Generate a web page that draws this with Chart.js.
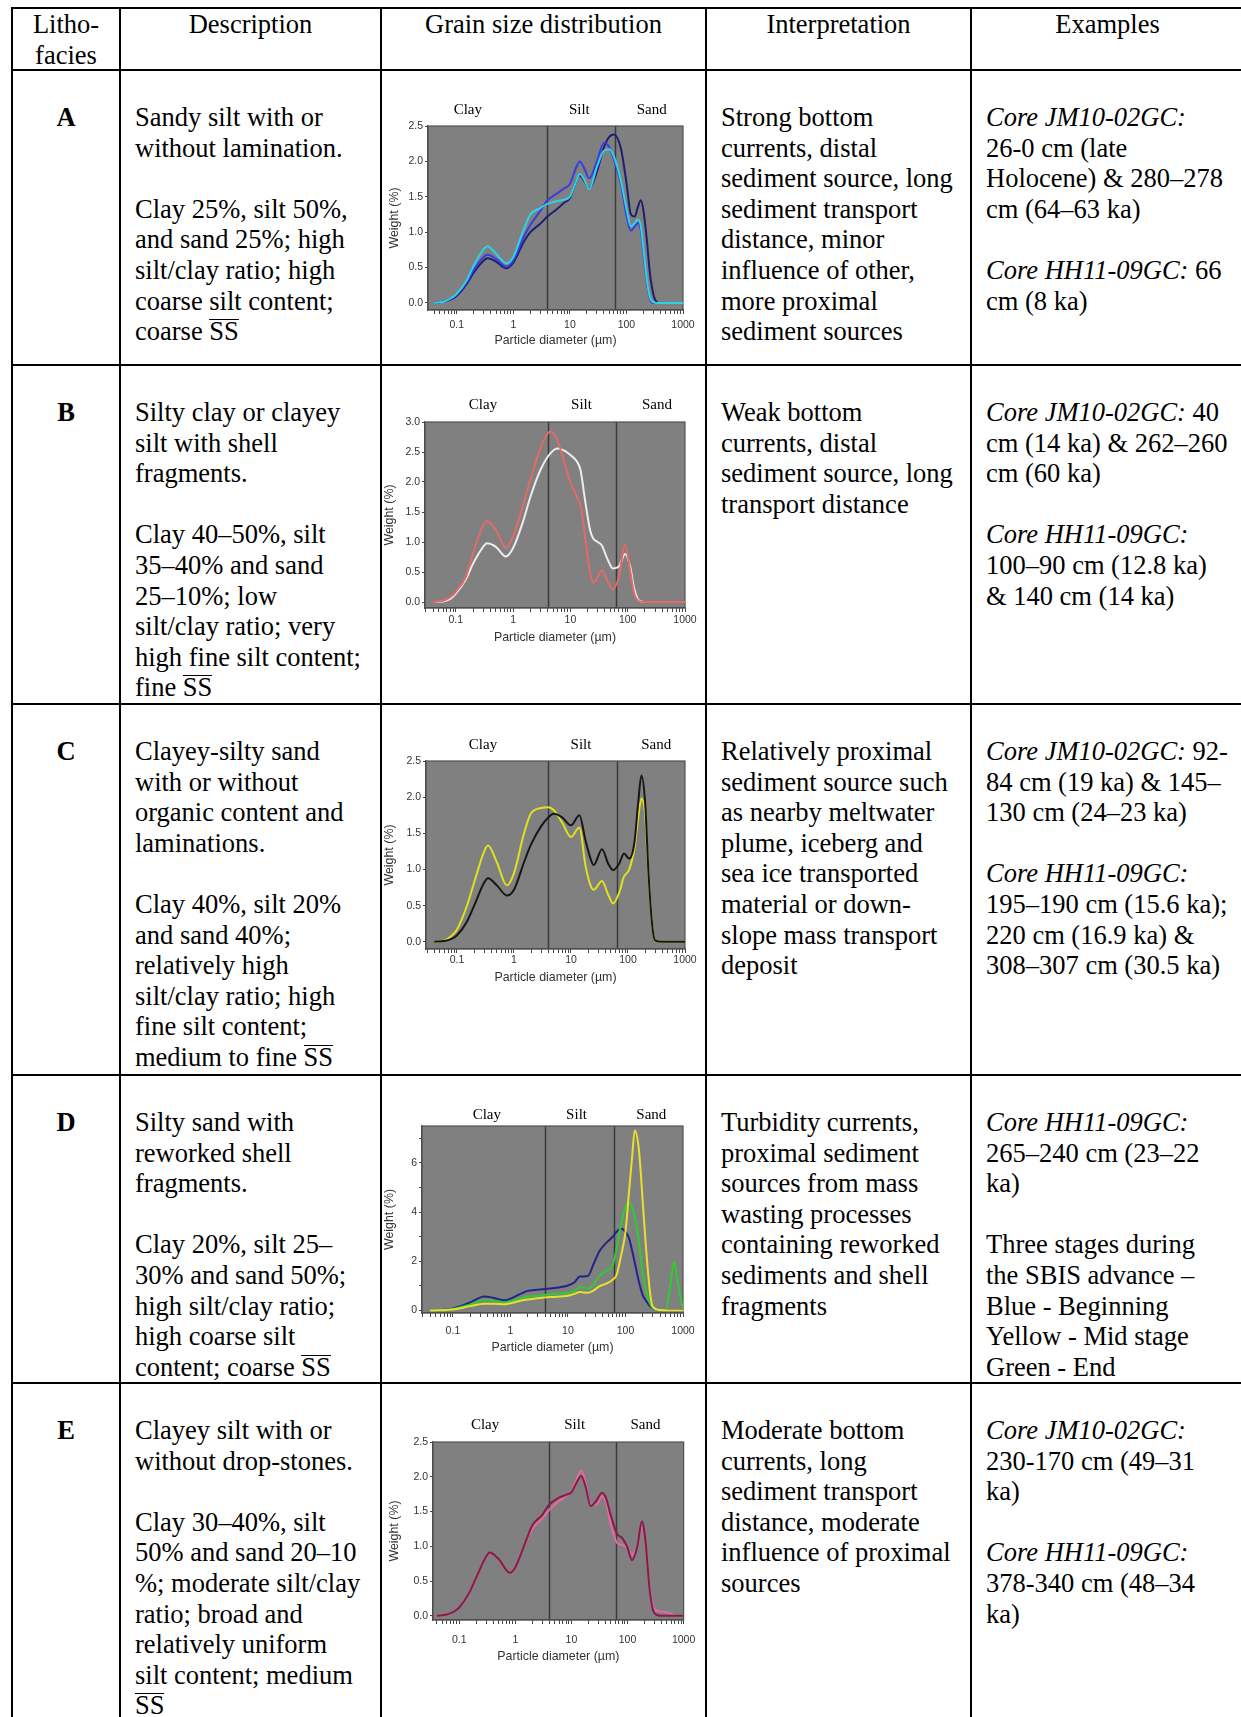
<!DOCTYPE html>
<html>
<head>
<meta charset="utf-8">
<title>Lithofacies grain size distributions</title>
<script src="https://cdn.jsdelivr.net/npm/chart.js@4.4.1/dist/chart.umd.min.js"></script>
<style>
  body { margin: 0; background: #fff; }
  #page { position: relative; width: 1241px; height: 1717px; overflow: hidden;
          font-family: "Liberation Serif", "Times New Roman", serif; font-size: 26.5px;
          line-height: 30.6px; color: #000; }
  .hl { position: absolute; left: 11px; right: 0; height: 2px; background: #000; }
  .vl { position: absolute; top: 7px; bottom: 0; width: 2px; background: #000; }
  .cell { position: absolute; white-space: nowrap; }
  .ov { display: inline-block; line-height: 22px; border-top: 1.5px solid #000; }
  canvas.plot { position: absolute; left: 383px; }
</style>
</head>
<body>
<div id="page"></div>
<script>
// ---- Chart data (particle diameter in µm, weight in %) ----
const xTickLabels = ['0.1', '1', '10', '100', '1000'];
const zoneBounds = [4, 63];            // clay/silt and silt/sand limits
const zoneNames = ['Clay', 'Silt', 'Sand'];

const yTicksA = [0, 0.5, 1.0, 1.5, 2.0, 2.5];
const yTicksB = [0, 0.5, 1.0, 1.5, 2.0, 2.5, 3.0];
const yTicksD = [0, 1, 2, 3, 4, 5, 6, 7];

// Facies A
const sizesA = [0.04, 0.06, 0.08, 0.1, 0.15, 0.2, 0.3, 0.35, 0.5, 0.75, 1, 1.5, 2, 3, 4, 6, 8, 10, 13, 15,
  18, 22, 30, 40, 50, 60, 80, 100, 120, 140, 160, 180, 200, 230, 260, 300, 350, 400, 1000];
const aCyan = [0, 0.02, 0.07, 0.13, 0.32, 0.53, 0.76, 0.80, 0.69, 0.56, 0.65, 1.02, 1.25, 1.34, 1.40, 1.44, 1.46, 1.50, 1.72, 1.82,
  1.74, 1.61, 1.92, 2.15, 2.17, 2.07, 1.72, 1.33, 1.08, 1.13, 1.18, 1.08, 0.76, 0.33, 0.08, 0.01, 0, 0, 0];
const aBlue = [0, 0.02, 0.06, 0.12, 0.29, 0.47, 0.65, 0.68, 0.62, 0.51, 0.60, 0.92, 1.10, 1.30, 1.45, 1.55, 1.62, 1.68, 1.92, 2.00,
  1.90, 1.76, 2.00, 2.26, 2.20, 2.03, 1.68, 1.24, 1.02, 1.08, 1.13, 1.02, 0.70, 0.30, 0.06, 0, 0, 0, 0];
const aNavy = [0, 0.02, 0.05, 0.10, 0.27, 0.43, 0.60, 0.63, 0.58, 0.49, 0.57, 0.85, 1.00, 1.12, 1.22, 1.33, 1.42, 1.48, 1.72, 1.80,
  1.72, 1.62, 1.85, 2.20, 2.35, 2.38, 2.18, 1.70, 1.25, 1.22, 1.36, 1.45, 1.30, 0.88, 0.42, 0.12, 0.01, 0, 0];

// Facies B
const sizesB = [0.04, 0.06, 0.08, 0.1, 0.15, 0.2, 0.3, 0.35, 0.5, 0.75, 1, 1.5, 2, 3, 4.5, 6, 8, 10, 13, 15,
  18, 22, 25, 30, 35, 45, 55, 70, 90, 110, 130, 160, 200, 1000];
const bRed = [0, 0.02, 0.08, 0.17, 0.42, 0.81, 1.28, 1.35, 1.20, 0.90, 1.09, 1.62, 2.03, 2.56, 2.84, 2.68, 2.30, 2.00, 1.75, 1.62,
  1.10, 0.50, 0.32, 0.42, 0.53, 0.34, 0.21, 0.42, 0.96, 0.53, 0.14, 0.01, 0, 0];
const bWhite = [0, 0.01, 0.05, 0.14, 0.38, 0.64, 0.92, 0.98, 0.92, 0.76, 0.90, 1.35, 1.75, 2.20, 2.48, 2.56, 2.52, 2.45, 2.34, 2.20,
  1.70, 1.20, 1.06, 1.00, 0.95, 0.70, 0.56, 0.59, 0.80, 0.60, 0.22, 0.02, 0, 0];

// Facies C
const sizesC = [0.04, 0.06, 0.08, 0.1, 0.15, 0.2, 0.3, 0.35, 0.5, 0.75, 1, 1.5, 2, 3, 4, 5, 7, 10, 14, 18,
  22, 25, 35, 45, 55, 70, 85, 105, 130, 150, 172, 200, 230, 270, 300, 400, 1000];
const cBlack = [0, 0.01, 0.04, 0.09, 0.28, 0.50, 0.82, 0.88, 0.78, 0.64, 0.72, 1.10, 1.35, 1.60, 1.72, 1.77, 1.72, 1.61, 1.75, 1.40,
  1.15, 1.06, 1.28, 1.08, 0.99, 1.08, 1.22, 1.15, 1.38, 1.90, 2.30, 1.92, 0.92, 0.18, 0.02, 0, 0];
const cYellow = [0, 0.02, 0.08, 0.17, 0.50, 0.82, 1.25, 1.33, 1.10, 0.78, 0.95, 1.50, 1.78, 1.85, 1.86, 1.82, 1.65, 1.45, 1.58, 1.05,
  0.78, 0.72, 0.84, 0.65, 0.53, 0.68, 0.90, 1.00, 1.30, 1.70, 1.98, 1.75, 0.90, 0.18, 0.02, 0, 0];

// Facies D
const sizesD = [0.04, 0.06, 0.1, 0.2, 0.35, 0.5, 0.8, 1, 1.5, 2, 3, 5, 10, 13, 16, 22, 28, 35, 45, 60,
  70, 85, 100, 115, 130, 145, 170, 200, 230, 270, 300, 400, 500, 600, 700, 800, 900, 1000];
const dNavy = [0, 0.01, 0.08, 0.33, 0.57, 0.52, 0.42, 0.48, 0.68, 0.80, 0.85, 0.90, 1.02, 1.15, 1.38, 1.40, 1.90, 2.40, 2.72, 3.00,
  3.20, 3.32, 3.20, 2.95, 2.45, 1.95, 1.20, 0.62, 0.38, 0.16, 0.09, 0.02, 0, 0, 0, 0, 0, 0];
const dGreen = [0, 0.01, 0.06, 0.25, 0.43, 0.40, 0.33, 0.38, 0.50, 0.56, 0.60, 0.66, 0.72, 0.80, 0.95, 0.90, 1.05, 1.40, 1.60, 1.85,
  2.50, 3.60, 4.20, 4.38, 4.20, 3.80, 2.86, 1.45, 0.75, 0.25, 0.10, 0.02, 0.02, 1.00, 1.98, 1.25, 0.55, 0.10];
const dYellow = [0, 0.01, 0.04, 0.18, 0.28, 0.28, 0.26, 0.30, 0.40, 0.45, 0.50, 0.55, 0.60, 0.68, 0.75, 0.72, 0.82, 0.98, 1.08, 1.25,
  1.45, 2.30, 3.20, 4.80, 6.20, 7.32, 6.60, 4.40, 2.40, 0.65, 0.15, 0.02, 0, 0, 0, 0, 0, 0];

// Facies E
const sizesE = [0.04, 0.06, 0.08, 0.1, 0.15, 0.2, 0.3, 0.35, 0.5, 0.8, 1, 1.5, 2, 3, 4, 6, 8, 10, 13, 15,
  18, 22, 28, 35, 42, 50, 65, 80, 100, 120, 150, 180, 210, 250, 300, 400, 500, 600, 700, 1000];
const eDark = [0, 0.02, 0.06, 0.12, 0.33, 0.55, 0.85, 0.91, 0.82, 0.62, 0.70, 1.05, 1.30, 1.45, 1.60, 1.70, 1.74, 1.78, 1.95, 2.01,
  1.85, 1.58, 1.66, 1.77, 1.68, 1.45, 1.18, 1.12, 0.98, 0.80, 1.00, 1.36, 1.05, 0.35, 0.04, 0, 0, 0, 0, 0];
const ePink = [0, 0.02, 0.06, 0.12, 0.33, 0.55, 0.85, 0.91, 0.82, 0.62, 0.70, 1.04, 1.25, 1.40, 1.52, 1.65, 1.72, 1.80, 2.00, 2.09,
  1.90, 1.60, 1.60, 1.72, 1.62, 1.32, 1.05, 1.02, 0.98, 0.88, 1.00, 1.28, 1.00, 0.40, 0.10, 0.06, 0.05, 0.03, 0, 0];

// ---- Table text ----
const headers = [['Litho-', 'facies'], ['Description'], ['Grain size distribution'], ['Interpretation'], ['Examples']];
const faciesLetters = ['A', 'B', 'C', 'D', 'E'];
const SS = '<span class="ov">SS</span>';
const descriptions = [
  ['Sandy silt with or', 'without lamination.', '', 'Clay 25%, silt 50%,', 'and sand 25%; high',
   'silt/clay ratio; high', 'coarse silt content;', 'coarse ' + SS],
  ['Silty clay or clayey', 'silt with shell', 'fragments.', '', 'Clay 40–50%, silt', '35–40% and sand',
   '25–10%; low', 'silt/clay ratio; very', 'high fine silt content;', 'fine ' + SS],
  ['Clayey-silty sand', 'with or without', 'organic content and', 'laminations.', '', 'Clay 40%, silt 20%',
   'and sand 40%;', 'relatively high', 'silt/clay ratio; high', 'fine silt content;', 'medium to fine ' + SS],
  ['Silty sand with', 'reworked shell', 'fragments.', '', 'Clay 20%, silt 25–', '30% and sand 50%;',
   'high silt/clay ratio;', 'high coarse silt', 'content; coarse ' + SS],
  ['Clayey silt with or', 'without drop-stones.', '', 'Clay 30–40%, silt', '50% and sand 20–10',
   '%; moderate silt/clay', 'ratio; broad and', 'relatively uniform', 'silt content; medium', SS]
];
const interpretations = [
  ['Strong bottom', 'currents, distal', 'sediment source, long', 'sediment transport', 'distance, minor',
   'influence of other,', 'more proximal', 'sediment sources'],
  ['Weak bottom', 'currents, distal', 'sediment source, long', 'transport distance'],
  ['Relatively proximal', 'sediment source such', 'as nearby meltwater', 'plume, iceberg and',
   'sea ice transported', 'material or down-', 'slope mass transport', 'deposit'],
  ['Turbidity currents,', 'proximal sediment', 'sources from mass', 'wasting processes',
   'containing reworked', 'sediments and shell', 'fragments'],
  ['Moderate bottom', 'currents, long', 'sediment transport', 'distance, moderate',
   'influence of proximal', 'sources']
];
const examples = [
  ['<i>Core JM10-02GC:</i>', '26-0 cm (late', 'Holocene) &amp; 280–278', 'cm (64–63 ka)', '',
   '<i>Core HH11-09GC:</i> 66', 'cm (8 ka)'],
  ['<i>Core JM10-02GC:</i> 40', 'cm (14 ka) &amp; 262–260', 'cm (60 ka)', '', '<i>Core HH11-09GC:</i>',
   '100–90 cm (12.8 ka)', '&amp; 140 cm (14 ka)'],
  ['<i>Core JM10-02GC:</i> 92-', '84 cm (19 ka) &amp; 145–', '130 cm (24–23 ka)', '', '<i>Core HH11-09GC:</i>',
   '195–190 cm (15.6 ka);', '220 cm (16.9 ka) &amp;', '308–307 cm (30.5 ka)'],
  ['<i>Core HH11-09GC:</i>', '265–240 cm (23–22', 'ka)', '', 'Three stages during', 'the SBIS advance –',
   'Blue - Beginning', 'Yellow - Mid stage', 'Green - End'],
  ['<i>Core JM10-02GC:</i>', '230-170 cm (49–31', 'ka)', '', '<i>Core HH11-09GC:</i>', '378-340 cm (48–34', 'ka)']
];

// ---- Layout ----
const colX = [12, 120, 381, 706, 971];
const rowY = [8, 70, 365, 704, 1075, 1383];

const page = document.getElementById('page');

function addDiv(cls, style, html) {
  const d = document.createElement('div');
  d.className = cls;
  Object.assign(d.style, style);
  if (html !== undefined) d.innerHTML = html;
  page.appendChild(d);
  return d;
}

function buildTable() {
  rowY.forEach(y => addDiv('hl', { top: (y - 1) + 'px' }));
  colX.forEach(x => addDiv('vl', { left: (x - 1) + 'px' }));

  // header row
  headers.forEach((lines, i) => {
    const left = colX[i] + 1;
    const right = i + 1 < colX.length ? colX[i + 1] - 1 : 1243;
    addDiv('cell', { left: left + 'px', width: (right - left) + 'px', top: '9px', textAlign: 'center' }, lines.join('<br>'));
  });

  // body rows
  faciesLetters.forEach((letter, r) => {
    const top = rowY[r + 1] + 32;
    addDiv('cell', { left: '13px', width: '106px', top: top + 'px', textAlign: 'center', fontWeight: 'bold' }, letter);
    addDiv('cell', { left: '135px', top: top + 'px' }, descriptions[r].join('<br>'));
    addDiv('cell', { left: '721px', top: top + 'px' }, interpretations[r].join('<br>'));
    addDiv('cell', { left: '986px', top: top + 'px' }, examples[r].join('<br>'));
  });
}

// ---- Charts ----
const plotSpecs = [
  { top: 72, height: 291, area: { l: 428, r: 683, t: 126, b: 310 }, xMin: 0.031, yMin: -0.1, yMax: 2.5, yTicks: yTicksA,
    zoneX: [0.157, 14.7, 279], zoneGap: 16, tickGap: 15, titleGap: 31, yTitleX: 395,
    sizes: sizesA, series: [[aCyan, '#2ad4e6'], [aBlue, '#3b3be0'], [aNavy, '#1f1f70']] },
  { top: 367, height: 335, area: { l: 425, r: 685, t: 422, b: 608 }, xMin: 0.029, yMin: -0.1, yMax: 3.0, yTicks: yTicksB,
    zoneX: [0.298, 15.6, 323], zoneGap: 17, tickGap: 12, titleGap: 30, yTitleX: 390,
    sizes: sizesB, series: [[bRed, '#e46a6a'], [bWhite, '#ececec']] },
  { top: 706, height: 367, area: { l: 426, r: 685, t: 761, b: 949 }, xMin: 0.0286, yMin: -0.1, yMax: 2.5, yTicks: yTicksA,
    zoneX: [0.286, 15, 313], zoneGap: 16, tickGap: 11, titleGap: 29, yTitleX: 390,
    sizes: sizesC, series: [[cBlack, '#161616'], [cYellow, '#e0e020']] },
  { top: 1077, height: 304, area: { l: 422, r: 683, t: 1126, b: 1313 }, xMin: 0.029, yMin: -0.1, yMax: 7.5, yTicks: yTicksD,
    zoneX: [0.388, 14.1, 281], zoneGap: 11, tickGap: 18, titleGap: 35, yTitleX: 390, intLabels: true,
    sizes: sizesD, series: [[dYellow, '#e8e02a'], [dGreen, '#2ecc2e'], [dNavy, '#23238c']] },
  { top: 1385, height: 332, area: { l: 433, r: 686, t: 1442, b: 1620 }, xMin: 0.034, yMin: -0.06, yMax: 2.5, yTicks: yTicksA,
    zoneX: [0.288, 11.4, 209], zoneGap: 17, tickGap: 20, titleGap: 37, yTitleX: 395,
    sizes: sizesE, series: [[eDark, '#8a1848'], [ePink, '#e66aa0']] }
];

// tick positions along the log axis: 1..9 x each decade
function logTickValues(min, max) {
  const out = [];
  for (let e = -2; e <= 3; e++) {
    for (let m = 1; m <= 9; m++) {
      const v = m * Math.pow(10, e);
      if (v >= min * 0.999 && v <= max * 1.001) out.push(v);
    }
  }
  return out;
}

function xLabel(v) {
  const lbl = xTickLabels.find(l => Math.abs(Math.log10(Number(l)) - Math.log10(v)) < 1e-6);
  return lbl || '';
}

const panelPlugin = {
  id: 'panel',
  beforeDraw(chart) {
    const { ctx, chartArea: a } = chart;
    ctx.save();
    ctx.fillStyle = '#808080';
    ctx.fillRect(a.left, a.top, a.right - a.left, a.bottom - a.top);
    ctx.restore();
  },
  beforeDatasetsDraw(chart) {
    const { ctx, chartArea: a, scales: { x } } = chart;
    ctx.save();
    ctx.strokeStyle = '#3a3a3a';
    ctx.lineWidth = 1.5;
    zoneBounds.forEach(v => {
      const px = Math.round(x.getPixelForValue(v)) + 0.5;
      ctx.beginPath();
      ctx.moveTo(px, a.top);
      ctx.lineTo(px, a.bottom);
      ctx.stroke();
    });
    ctx.strokeStyle = '#505050';
    ctx.lineWidth = 1.2;
    ctx.strokeRect(a.left, a.top, a.right - a.left, a.bottom - a.top);
    ctx.restore();
  },
  afterDraw(chart, args, opts) {
    const { ctx, chartArea: a, scales: { x } } = chart;
    ctx.save();
    ctx.fillStyle = '#000';
    ctx.font = '15px "Liberation Serif", "Times New Roman", serif';
    ctx.textAlign = 'center';
    ctx.textBaseline = 'middle';
    zoneNames.forEach((name, i) => {
      ctx.fillText(name, x.getPixelForValue(opts.zoneX[i]), a.top - opts.zoneGap);
    });
    ctx.restore();
  }
};

function renderPlot(spec) {
  const canvas = document.createElement('canvas');
  canvas.className = 'plot';
  const cw = 322;
  canvas.width = cw;
  canvas.height = spec.height;
  canvas.style.top = spec.top + 'px';
  page.appendChild(canvas);

  const cl = 383;
  const titleSize = 12.4;
  const tickSize = 10.5;
  const halfTitle = titleSize * 1.2 / 2;
  const halfTick = tickSize * 1.2 / 2;
  const a = spec.area;
  const padLeft = spec.yTitleX - halfTitle - cl;
  const yWidth = a.l - cl - padLeft;
  const xHeight = spec.titleGap + halfTitle;
  const padBottom = spec.top + spec.height - a.b - xHeight;
  const xTickLen = 4;

  const datasets = spec.series.map(([values, color]) => ({
    data: spec.sizes.map((s, i) => ({ x: s, y: values[i] })),
    borderColor: color,
    borderWidth: 2,
    pointRadius: 0,
    fill: false,
    cubicInterpolationMode: 'monotone'
  }));

  const tickFont = { family: '"Liberation Sans", Arial, sans-serif', size: tickSize };
  const titleFont = { family: '"Liberation Sans", Arial, sans-serif', size: titleSize };

  new Chart(canvas, {
    type: 'line',
    data: { datasets },
    plugins: [panelPlugin],
    options: {
      responsive: false,
      animation: false,
      devicePixelRatio: 1,
      layout: { padding: { left: padLeft, right: cl + cw - a.r, top: a.t - spec.top, bottom: padBottom } },
      plugins: {
        legend: { display: false },
        tooltip: { enabled: false },
        panel: { zoneX: spec.zoneX, zoneGap: spec.zoneGap }
      },
      scales: {
        x: {
          type: 'logarithmic',
          min: spec.xMin,
          max: 1000,
          afterBuildTicks: scale => { scale.ticks = logTickValues(spec.xMin, 1000).map(v => ({ value: v })); },
          afterFit: scale => { scale.height = xHeight; },
          grid: { drawOnChartArea: false, drawTicks: true, tickLength: xTickLen, color: '#444' },
          border: { color: '#4a4a4a', width: 1.2 },
          ticks: {
            autoSkip: false, maxRotation: 0, color: '#333', font: tickFont,
            padding: spec.tickGap - halfTick - xTickLen,
            callback: v => xLabel(v)
          },
          title: { display: true, text: 'Particle diameter (µm)', color: '#333', font: titleFont, padding: 0 }
        },
        y: {
          min: spec.yMin,
          max: spec.yMax,
          afterBuildTicks: scale => { scale.ticks = spec.yTicks.map(v => ({ value: v })); },
          afterFit: scale => { scale.width = yWidth; },
          grid: { drawOnChartArea: false, drawTicks: true, tickLength: 3, color: '#444' },
          border: { color: '#4a4a4a', width: 1.2 },
          ticks: {
            autoSkip: false, color: '#333', font: tickFont, padding: 2,
            callback: v => spec.intLabels ? (v % 2 === 0 ? String(v) : '') : v.toFixed(1)
          },
          title: { display: true, text: 'Weight (%)', color: '#333', font: titleFont, padding: 0 }
        }
      }
    }
  });
}

buildTable();
plotSpecs.forEach(renderPlot);
</script>
</body>
</html>
